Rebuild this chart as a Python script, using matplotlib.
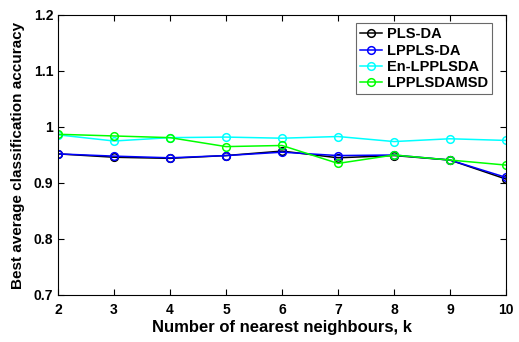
import matplotlib
matplotlib.use('Agg')
import matplotlib.pyplot as plt

k = [2, 3, 4, 5, 6, 7, 8, 9, 10]
pls_da = [0.952, 0.946, 0.944, 0.949, 0.957, 0.945, 0.949, 0.941, 0.907]
lppls_da = [0.952, 0.948, 0.945, 0.949, 0.955, 0.949, 0.950, 0.941, 0.910]
en_lpplsda = [0.986, 0.975, 0.981, 0.982, 0.980, 0.983, 0.974, 0.979, 0.976]
lpplsdamsd = [0.987, 0.984, 0.981, 0.965, 0.967, 0.935, 0.950, 0.941, 0.932]

plt.rcParams['font.family'] = ['Liberation Sans', 'DejaVu Sans']
plt.rcParams['font.weight'] = 'bold'

fig = plt.figure(figsize=(5.19, 3.42), dpi=100)
ax = fig.add_axes([58 / 519, 47 / 342, 448 / 519, 280 / 342])

series = [
    ('PLS-DA', pls_da, 'k'),
    ('LPPLS-DA', lppls_da, '#0000ff'),
    ('En-LPPLSDA', en_lpplsda, '#00ffff'),
    ('LPPLSDAMSD', lpplsdamsd, '#00ff00'),
]
for name, vals, col in series:
    ax.plot(k, vals, '-o', color=col, mfc='none', mec=col, ms=5.5,
            lw=1.1, mew=1.1, label=name)

ax.set_xlim(2, 10)
ax.set_ylim(0.7, 1.2)
ax.set_xticks(k)
ax.set_yticks([0.7, 0.8, 0.9, 1.0, 1.1, 1.2])
ax.set_yticklabels(['0.7', '0.8', '0.9', '1', '1.1', '1.2'])
ax.tick_params(direction='in', top=True, right=True, labelsize=10,
               length=4)
ax.tick_params(axis='x', pad=6)
for lab in ax.get_xticklabels() + ax.get_yticklabels():
    lab.set_fontweight('bold')
for sp in ax.spines.values():
    sp.set_linewidth(0.8)

ax.set_xlabel('Number of nearest neighbours, k', fontsize=12,
              fontweight='bold', labelpad=2)
ax.set_ylabel('Best average classification accuracy', fontsize=11,
              fontweight='bold', labelpad=6)

leg = ax.legend(loc='upper right', bbox_to_anchor=(0.969, 0.971),
                fontsize=10.5, fancybox=False,
                handlelength=1.5, handletextpad=0.3, borderpad=0.3,
                labelspacing=0.15, borderaxespad=0)
leg.get_frame().set_edgecolor('#444444')
leg.get_frame().set_linewidth(0.8)
for t in leg.get_texts():
    t.set_fontweight('bold')

fig.savefig('out.png', dpi=100)
